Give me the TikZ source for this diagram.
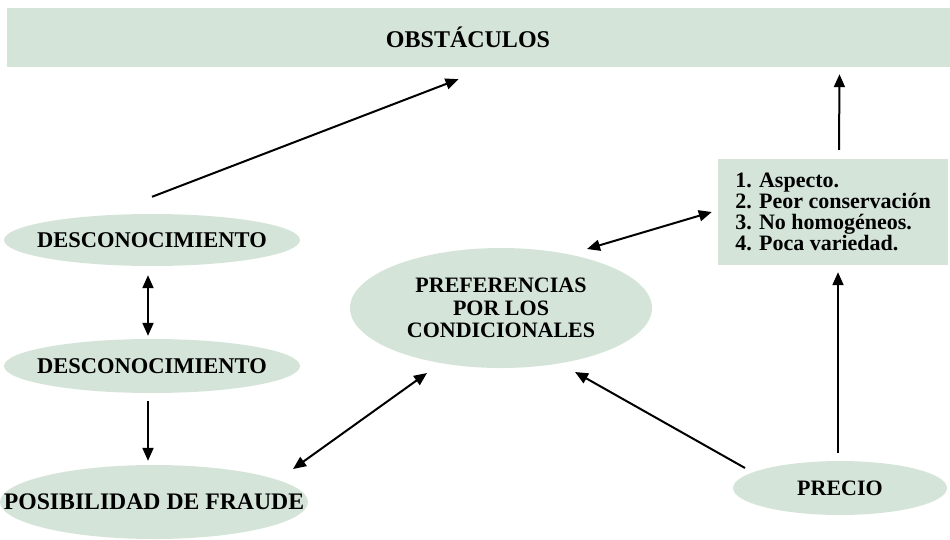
\documentclass[tikz,border=0pt]{standalone}
\usepackage{fontspec}
\setmainfont{Liberation Serif}
\usetikzlibrary{shapes.geometric,arrows.meta,calc}
\definecolor{sage}{RGB}{213,228,217}
\begin{document}
\begin{tikzpicture}[x=1pt,y=1pt,
  lbl/.style={font=\fontsize{22.5}{22.5}\selectfont\bfseries},
  ell/.style={ellipse,fill=sage,inner sep=-60pt,lbl,align=center},
  tip/.tip={Triangle[length=13pt,width=11pt]},
  arr/.style={-tip,line width=2pt},
  darr/.style={tip-tip,line width=2pt}]
\useasboundingbox (0,0) rectangle (950,-539);

\node[rectangle,fill=sage,minimum width=943pt,minimum height=59pt,inner sep=0pt,
  font=\fontsize{24}{24}\selectfont\bfseries] (obst) at (478.5,-37.5) {OBSTÁCULOS\hspace*{21pt}};

\node[ell,minimum width=296pt,minimum height=52pt] (desc1) at (152,-240) {DESCONOCIMIENTO};
\node[ell,minimum width=296pt,minimum height=54pt] (desc2) at (152,-366) {DESCONOCIMIENTO};
\node[ell,minimum width=308pt,minimum height=74pt,font=\fontsize{23.7}{24}\selectfont\bfseries] (posib) at (154,-502) {POSIBILIDAD DE FRAUDE};
\node[ell,minimum width=302pt,minimum height=120pt,font=\fontsize{22}{22.5}\selectfont\bfseries] (pref) at (501,-308) {PREFERENCIAS\\POR LOS\\CONDICIONALES};
\node[ell,minimum width=214pt,minimum height=54pt,font=\fontsize{22}{22}\selectfont\bfseries] (precio) at (840,-488) {PRECIO};

\node[rectangle,fill=sage,minimum width=230pt,minimum height=106pt,inner sep=0pt,align=left,
  font=\fontsize{22}{21}\selectfont\bfseries] (box) at (833,-212)
  {1. Aspecto.\\2. Peor conservación\\3. No homogéneos.\\4. Poca variedad.};

\draw[arr] ([yshift=17pt]desc1.north) -- ([xshift=-20pt,yshift=-12pt]obst.south);
\draw[darr] ([xshift=-4pt,yshift=-9pt]desc1.south) -- ([xshift=-4pt,yshift=3pt]desc2.north);
\draw[arr] ([xshift=-4pt,yshift=-8pt]desc2.south) -- ([xshift=-6pt,yshift=4pt]posib.north);
\draw[darr] ([shift={(139pt,33pt)}]posib.center) -- ([shift={(-74pt,-65pt)}]pref.center);
\draw[arr] ([shift={(-95pt,20pt)}]precio.center) -- ([shift={(74pt,-64pt)}]pref.center);
\draw[darr] ([shift={(86pt,59pt)}]pref.center) -- ([xshift=-6pt]box.west);
\draw[arr] ([xshift=-2pt,yshift=8pt]precio.north) -- ([xshift=5pt,yshift=-7pt]box.south);
\draw[arr] ([xshift=6pt,yshift=9pt]box.north) -- ([xshift=361pt,yshift=-7pt]obst.south);
\end{tikzpicture}
\end{document}
